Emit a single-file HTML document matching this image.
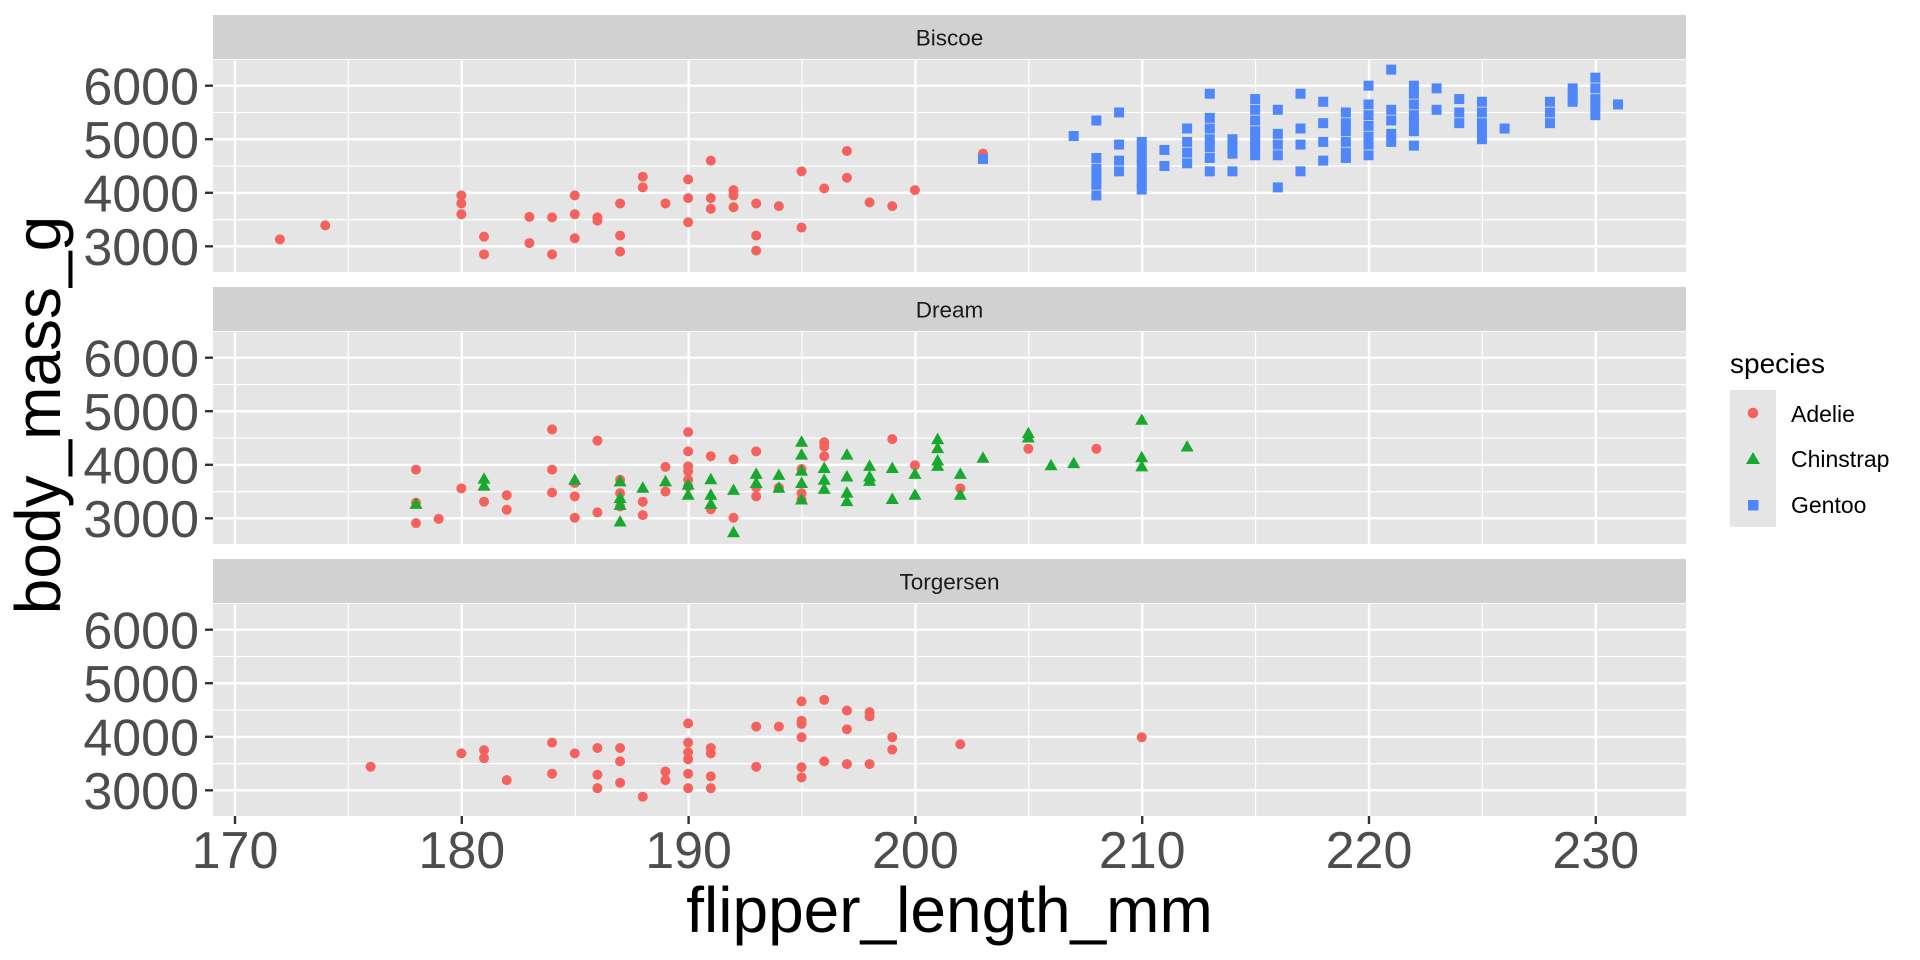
<!DOCTYPE html>
<html><head><meta charset="utf-8"><style>
html,body{margin:0;padding:0;background:#fff;}
svg{display:block;font-family:"Liberation Sans",sans-serif;}
</style></head><body>
<svg width="1920" height="960" viewBox="0 0 1920 960" xmlns="http://www.w3.org/2000/svg">
<defs>
<g id="grid">
<rect x="213" y="0" width="1473" height="212" fill="#E5E5E5"/>
<g stroke="#fff" stroke-width="1.2">
<line x1="213" x2="1686" y1="52.5" y2="52.5"/><line x1="213" x2="1686" y1="106" y2="106"/><line x1="213" x2="1686" y1="159.6" y2="159.6"/>
<line x1="348.4" x2="348.4" y1="0" y2="212"/><line x1="575.2" x2="575.2" y1="0" y2="212"/><line x1="802" x2="802" y1="0" y2="212"/><line x1="1028.8" x2="1028.8" y1="0" y2="212"/><line x1="1255.6" x2="1255.6" y1="0" y2="212"/><line x1="1482.4" x2="1482.4" y1="0" y2="212"/>
</g>
<g stroke="#fff" stroke-width="2.4">
<line x1="213" x2="1686" y1="25.7" y2="25.7"/><line x1="213" x2="1686" y1="79.2" y2="79.2"/><line x1="213" x2="1686" y1="132.8" y2="132.8"/><line x1="213" x2="1686" y1="186.3" y2="186.3"/>
<line x1="235" x2="235" y1="0" y2="212"/><line x1="461.8" x2="461.8" y1="0" y2="212"/><line x1="688.6" x2="688.6" y1="0" y2="212"/><line x1="915.4" x2="915.4" y1="0" y2="212"/><line x1="1142.2" x2="1142.2" y1="0" y2="212"/><line x1="1369" x2="1369" y1="0" y2="212"/><line x1="1595.8" x2="1595.8" y1="0" y2="212"/>
</g>
<g stroke="#333" stroke-width="2.4">
<line x1="205" x2="213" y1="25.7" y2="25.7"/><line x1="205" x2="213" y1="79.2" y2="79.2"/><line x1="205" x2="213" y1="132.8" y2="132.8"/><line x1="205" x2="213" y1="186.3" y2="186.3"/>
</g>
<g fill="#4D4D4D" font-size="52" text-anchor="end">
<text x="199" y="44.4">6000</text><text x="199" y="97.9">5000</text><text x="199" y="151.5">4000</text><text x="199" y="205">3000</text>
</g>
</g>
<ellipse id="c" rx="0.2205" ry="93.4" fill="#F5625D"/>
<polygon id="t" points="0,121 0.2866,-93.4 -0.2866,-93.4" fill="#17A82E"/>
<rect id="s" x="-0.2205" y="-93.4" width="0.441" height="186.8" fill="#4F87FB"/>
</defs>

<rect x="213" y="15" width="1473" height="44" fill="#D1D1D1"/>
<rect x="213" y="287" width="1473" height="44" fill="#D1D1D1"/>
<rect x="213" y="559" width="1473" height="44" fill="#D1D1D1"/>
<g font-size="22.5" fill="#1A1A1A" text-anchor="middle">
<text x="949.5" y="45.5">Biscoe</text>
<text x="949.5" y="317.5">Dream</text>
<text x="949.5" y="589.5">Torgersen</text>
</g>

<use href="#grid" transform="translate(0,60)"/>
<use href="#grid" transform="translate(0,332)"/>
<use href="#grid" transform="translate(0,604)"/>

<g transform="translate(213,406.9) scale(22.68,-0.053535) translate(-169.05,0)">
<use href="#c" x="172" y="3130"/><use href="#c" x="174" y="3390"/><use href="#c" x="180" y="3950"/><use href="#c" x="180" y="3800"/><use href="#c" x="180" y="3600"/><use href="#c" x="181" y="3180"/><use href="#c" x="181" y="2850"/><use href="#c" x="183" y="3550"/><use href="#c" x="183" y="3060"/><use href="#c" x="184" y="3540"/><use href="#c" x="184" y="2850"/><use href="#c" x="185" y="3950"/><use href="#c" x="185" y="3600"/><use href="#c" x="185" y="3150"/><use href="#c" x="186" y="3540"/><use href="#c" x="186" y="3480"/><use href="#c" x="187" y="3800"/><use href="#c" x="187" y="3200"/><use href="#c" x="187" y="2900"/><use href="#c" x="188" y="4300"/><use href="#c" x="188" y="4100"/><use href="#c" x="189" y="3800"/><use href="#c" x="190" y="4250"/><use href="#c" x="190" y="3900"/><use href="#c" x="190" y="3450"/><use href="#c" x="191" y="4600"/><use href="#c" x="191" y="3900"/><use href="#c" x="191" y="3700"/><use href="#c" x="192" y="4050"/><use href="#c" x="192" y="3950"/><use href="#c" x="192" y="3730"/><use href="#c" x="193" y="3800"/><use href="#c" x="193" y="3200"/><use href="#c" x="193" y="2920"/><use href="#c" x="194" y="3750"/><use href="#c" x="195" y="4400"/><use href="#c" x="195" y="3350"/><use href="#c" x="196" y="4080"/><use href="#c" x="197" y="4780"/><use href="#c" x="197" y="4280"/><use href="#c" x="198" y="3820"/><use href="#c" x="199" y="3750"/><use href="#c" x="200" y="4050"/><use href="#c" x="203" y="4730"/>
<use href="#s" x="203" y="4630"/>
<use href="#s" x="207" y="5060"/>
<use href="#s" x="208" y="5350"/><use href="#s" x="208" y="4650"/><use href="#s" x="208" y="4450"/><use href="#s" x="208" y="4300"/><use href="#s" x="208" y="4150"/><use href="#s" x="208" y="3950"/>
<use href="#s" x="209" y="5500"/><use href="#s" x="209" y="4900"/><use href="#s" x="209" y="4600"/><use href="#s" x="209" y="4400"/>
<use href="#s" x="210" y="4950"/><use href="#s" x="210" y="4800"/><use href="#s" x="210" y="4650"/><use href="#s" x="210" y="4500"/><use href="#s" x="210" y="4350"/><use href="#s" x="210" y="4200"/><use href="#s" x="210" y="4060"/>
<use href="#s" x="211" y="4800"/><use href="#s" x="211" y="4500"/>
<use href="#s" x="212" y="5200"/><use href="#s" x="212" y="4950"/><use href="#s" x="212" y="4750"/><use href="#s" x="212" y="4550"/>
<use href="#s" x="213" y="5850"/><use href="#s" x="213" y="5400"/><use href="#s" x="213" y="5200"/><use href="#s" x="213" y="5000"/><use href="#s" x="213" y="4850"/><use href="#s" x="213" y="4650"/><use href="#s" x="213" y="4400"/>
<use href="#s" x="214" y="5000"/><use href="#s" x="214" y="4850"/><use href="#s" x="214" y="4730"/><use href="#s" x="214" y="4400"/>
<use href="#s" x="215" y="5750"/><use href="#s" x="215" y="5550"/><use href="#s" x="215" y="5350"/><use href="#s" x="215" y="5150"/><use href="#s" x="215" y="5000"/><use href="#s" x="215" y="4850"/><use href="#s" x="215" y="4700"/>
<use href="#s" x="216" y="5550"/><use href="#s" x="216" y="5100"/><use href="#s" x="216" y="4900"/><use href="#s" x="216" y="4700"/><use href="#s" x="216" y="4100"/>
<use href="#s" x="217" y="5850"/><use href="#s" x="217" y="5200"/><use href="#s" x="217" y="4900"/><use href="#s" x="217" y="4400"/>
<use href="#s" x="218" y="5700"/><use href="#s" x="218" y="5300"/><use href="#s" x="218" y="4950"/><use href="#s" x="218" y="4600"/>
<use href="#s" x="219" y="5500"/><use href="#s" x="219" y="5300"/><use href="#s" x="219" y="5150"/><use href="#s" x="219" y="4950"/><use href="#s" x="219" y="4750"/><use href="#s" x="219" y="4650"/>
<use href="#s" x="220" y="6000"/><use href="#s" x="220" y="5650"/><use href="#s" x="220" y="5450"/><use href="#s" x="220" y="5250"/><use href="#s" x="220" y="5050"/><use href="#s" x="220" y="4900"/><use href="#s" x="220" y="4700"/>
<use href="#s" x="221" y="6300"/><use href="#s" x="221" y="5550"/><use href="#s" x="221" y="5350"/><use href="#s" x="221" y="5100"/><use href="#s" x="221" y="4950"/>
<use href="#s" x="222" y="6000"/><use href="#s" x="222" y="5850"/><use href="#s" x="222" y="5650"/><use href="#s" x="222" y="5450"/><use href="#s" x="222" y="5300"/><use href="#s" x="222" y="5150"/><use href="#s" x="222" y="4880"/>
<use href="#s" x="223" y="5950"/><use href="#s" x="223" y="5550"/>
<use href="#s" x="224" y="5750"/><use href="#s" x="224" y="5500"/><use href="#s" x="224" y="5300"/>
<use href="#s" x="225" y="5700"/><use href="#s" x="225" y="5500"/><use href="#s" x="225" y="5300"/><use href="#s" x="225" y="5150"/><use href="#s" x="225" y="5000"/>
<use href="#s" x="226" y="5200"/>
<use href="#s" x="228" y="5700"/><use href="#s" x="228" y="5500"/><use href="#s" x="228" y="5300"/>
<use href="#s" x="229" y="5950"/><use href="#s" x="229" y="5800"/><use href="#s" x="229" y="5700"/>
<use href="#s" x="230" y="6150"/><use href="#s" x="230" y="5950"/><use href="#s" x="230" y="5750"/><use href="#s" x="230" y="5600"/><use href="#s" x="230" y="5450"/>
<use href="#s" x="231" y="5650"/>
</g>

<g transform="translate(213,678.9) scale(22.68,-0.053535) translate(-169.05,0)">
<use href="#c" x="178" y="3910"/><use href="#c" x="178" y="3290"/><use href="#c" x="178" y="2910"/><use href="#c" x="179" y="2990"/><use href="#c" x="180" y="3560"/><use href="#c" x="181" y="3310"/><use href="#c" x="182" y="3430"/><use href="#c" x="182" y="3160"/><use href="#c" x="184" y="4660"/><use href="#c" x="184" y="3910"/><use href="#c" x="184" y="3480"/><use href="#c" x="185" y="3660"/><use href="#c" x="185" y="3410"/><use href="#c" x="185" y="3010"/><use href="#c" x="186" y="4450"/><use href="#c" x="186" y="3110"/><use href="#c" x="187" y="3720"/><use href="#c" x="187" y="3470"/><use href="#c" x="187" y="3220"/><use href="#c" x="188" y="3310"/><use href="#c" x="188" y="3060"/><use href="#c" x="189" y="3960"/><use href="#c" x="189" y="3500"/><use href="#c" x="190" y="4610"/><use href="#c" x="190" y="4250"/><use href="#c" x="190" y="3970"/><use href="#c" x="190" y="3880"/><use href="#c" x="190" y="3720"/><use href="#c" x="190" y="3600"/><use href="#c" x="191" y="4160"/><use href="#c" x="191" y="3170"/><use href="#c" x="192" y="4100"/><use href="#c" x="192" y="3010"/><use href="#c" x="193" y="4250"/><use href="#c" x="193" y="3580"/><use href="#c" x="193" y="3410"/><use href="#c" x="194" y="3570"/><use href="#c" x="195" y="3920"/><use href="#c" x="195" y="3470"/><use href="#c" x="195" y="3350"/><use href="#c" x="196" y="4420"/><use href="#c" x="196" y="4340"/><use href="#c" x="196" y="4160"/><use href="#c" x="199" y="4480"/><use href="#c" x="200" y="3990"/><use href="#c" x="202" y="3560"/><use href="#c" x="205" y="4300"/><use href="#c" x="208" y="4300"/>
<use href="#t" x="178" y="3270"/><use href="#t" x="181" y="3740"/><use href="#t" x="181" y="3610"/><use href="#t" x="185" y="3720"/><use href="#t" x="187" y="3690"/><use href="#t" x="187" y="3380"/><use href="#t" x="187" y="3250"/><use href="#t" x="187" y="2940"/><use href="#t" x="188" y="3570"/><use href="#t" x="189" y="3690"/><use href="#t" x="190" y="3630"/><use href="#t" x="190" y="3440"/><use href="#t" x="191" y="3730"/><use href="#t" x="191" y="3440"/><use href="#t" x="191" y="3270"/><use href="#t" x="192" y="3530"/><use href="#t" x="192" y="2740"/><use href="#t" x="193" y="3830"/><use href="#t" x="193" y="3660"/><use href="#t" x="194" y="3810"/><use href="#t" x="194" y="3570"/><use href="#t" x="195" y="4430"/><use href="#t" x="195" y="4190"/><use href="#t" x="195" y="3890"/><use href="#t" x="195" y="3660"/><use href="#t" x="195" y="3350"/><use href="#t" x="196" y="3940"/><use href="#t" x="196" y="3720"/><use href="#t" x="196" y="3550"/><use href="#t" x="197" y="4190"/><use href="#t" x="197" y="3780"/><use href="#t" x="197" y="3480"/><use href="#t" x="197" y="3320"/><use href="#t" x="198" y="3980"/><use href="#t" x="198" y="3780"/><use href="#t" x="198" y="3700"/><use href="#t" x="199" y="3940"/><use href="#t" x="199" y="3360"/><use href="#t" x="200" y="3830"/><use href="#t" x="200" y="3440"/><use href="#t" x="201" y="4480"/><use href="#t" x="201" y="4310"/><use href="#t" x="201" y="4080"/><use href="#t" x="201" y="3980"/><use href="#t" x="202" y="3830"/><use href="#t" x="202" y="3440"/><use href="#t" x="203" y="4130"/><use href="#t" x="205" y="4590"/><use href="#t" x="205" y="4510"/><use href="#t" x="206" y="3990"/><use href="#t" x="207" y="4030"/><use href="#t" x="210" y="4840"/><use href="#t" x="210" y="4140"/><use href="#t" x="210" y="3970"/><use href="#t" x="212" y="4340"/>
</g>

<g transform="translate(213,950.9) scale(22.68,-0.053535) translate(-169.05,0)">
<use href="#c" x="176" y="3440"/><use href="#c" x="180" y="3690"/><use href="#c" x="181" y="3750"/><use href="#c" x="181" y="3600"/><use href="#c" x="182" y="3190"/><use href="#c" x="184" y="3890"/><use href="#c" x="184" y="3310"/><use href="#c" x="185" y="3690"/><use href="#c" x="186" y="3790"/><use href="#c" x="186" y="3290"/><use href="#c" x="186" y="3040"/><use href="#c" x="187" y="3790"/><use href="#c" x="187" y="3540"/><use href="#c" x="187" y="3140"/><use href="#c" x="188" y="2880"/><use href="#c" x="189" y="3350"/><use href="#c" x="189" y="3190"/><use href="#c" x="190" y="4250"/><use href="#c" x="190" y="3890"/><use href="#c" x="190" y="3710"/><use href="#c" x="190" y="3580"/><use href="#c" x="190" y="3310"/><use href="#c" x="190" y="3040"/><use href="#c" x="191" y="3790"/><use href="#c" x="191" y="3690"/><use href="#c" x="191" y="3260"/><use href="#c" x="191" y="3040"/><use href="#c" x="193" y="4190"/><use href="#c" x="193" y="3440"/><use href="#c" x="194" y="4190"/><use href="#c" x="195" y="4660"/><use href="#c" x="195" y="4300"/><use href="#c" x="195" y="4240"/><use href="#c" x="195" y="3990"/><use href="#c" x="195" y="3430"/><use href="#c" x="195" y="3240"/><use href="#c" x="196" y="4690"/><use href="#c" x="196" y="3540"/><use href="#c" x="197" y="4490"/><use href="#c" x="197" y="4140"/><use href="#c" x="197" y="3490"/><use href="#c" x="198" y="4460"/><use href="#c" x="198" y="4380"/><use href="#c" x="198" y="3490"/><use href="#c" x="199" y="3990"/><use href="#c" x="199" y="3760"/><use href="#c" x="202" y="3860"/><use href="#c" x="210" y="3990"/>
</g>

<g stroke="#333" stroke-width="2.4">
<line x1="235" x2="235" y1="816" y2="824"/><line x1="461.8" x2="461.8" y1="816" y2="824"/><line x1="688.6" x2="688.6" y1="816" y2="824"/><line x1="915.4" x2="915.4" y1="816" y2="824"/><line x1="1142.2" x2="1142.2" y1="816" y2="824"/><line x1="1369" x2="1369" y1="816" y2="824"/><line x1="1595.8" x2="1595.8" y1="816" y2="824"/>
</g>
<g fill="#4D4D4D" font-size="52" text-anchor="middle">
<text x="235" y="868">170</text><text x="461.8" y="868">180</text><text x="688.6" y="868">190</text><text x="915.4" y="868">200</text><text x="1142.2" y="868">210</text><text x="1369" y="868">220</text><text x="1595.8" y="868">230</text>
</g>
<text x="949.5" y="932" font-size="64" text-anchor="middle" fill="#000">flipper_length_mm</text>
<text transform="translate(60,415) rotate(-90)" font-size="64" text-anchor="middle" fill="#000">body_mass_g</text>

<text x="1730" y="373" font-size="28" fill="#000">species</text>
<rect x="1730" y="390" width="46" height="137" fill="#E5E5E5"/>
<circle cx="1753" cy="413" r="5.3" fill="#F5625D"/>
<polygon points="1753,452 1760,464 1746,464" fill="#17A82E"/>
<rect x="1748" y="500" width="10.5" height="10.5" fill="#4F87FB"/>
<g font-size="23" fill="#000">
<text x="1791" y="422">Adelie</text>
<text x="1791" y="467">Chinstrap</text>
<text x="1791" y="513">Gentoo</text>
</g>
</svg>
</body></html>
